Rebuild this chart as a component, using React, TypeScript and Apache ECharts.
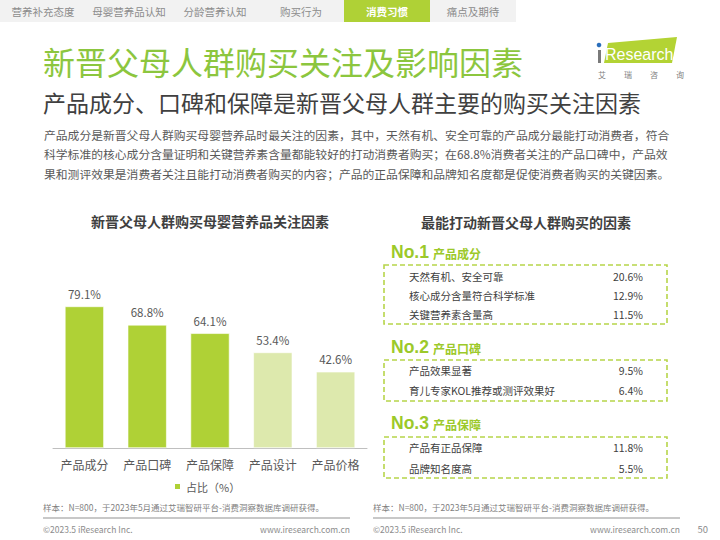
import React, { useEffect, useRef } from "react";
import * as echarts from "echarts";

const categories = ["产品成分", "产品口碑", "产品保障", "产品设计", "产品价格"];
const shares = [79.1, 68.8, 64.1, 53.4, 42.6];
const highlightCount = 3;

const tabs = ["营养补充态度", "母婴营养品认知", "分龄营养认知", "购买行为", "消费习惯", "痛点及期待"];
const activeTab = 4;

const ranks = ["No.1", "No.2", "No.3"];
const rankGroups = ["产品成分", "产品口碑", "产品保障"];
const groupItems = [
  ["天然有机、安全可靠", "核心成分含量符合科学标准", "关键营养素含量高"],
  ["产品效果显著", "育儿专家KOL推荐或测评效果好"],
  ["产品有正品保障", "品牌知名度高"],
];
const groupValues = [
  [20.6, 12.9, 11.5],
  [9.5, 6.4],
  [11.8, 5.5],
];

const paragraph = [
  "产品成分是新晋父母人群购买母婴营养品时最关注的因素，其中，天然有机、安全可靠的产品成分最能打动消费者，符合",
  "科学标准的核心成分含量证明和关键营养素含量都能较好的打动消费者购买；在68.8%消费者关注的产品口碑中，产品效",
  "果和测评效果是消费者关注且能打动消费者购买的内容；产品的正品保障和品牌知名度都是促使消费者购买的关键因素。",
];
const sourceNote = "样本：N=800，于2023年5月通过艾瑞智研平台-消费洞察数据库调研获得。";

const FONT = "'Noto Sans CJK SC', 'Noto Sans', sans-serif";
const GREEN = "#afd136";
const LIGHT = "#dde9ad";
const TITLE_GREEN = "#8cc63e";
const TEXT = "#595959";

export default function App() {
  const ref = useRef<HTMLDivElement>(null);
  useEffect(() => {
    if (!ref.current) return;
    const chart = echarts.init(ref.current, null, { renderer: "svg" });
    const g: any[] = [];

    // tabs
    g.push({ type: "rect", shape: { x: 0, y: 0, width: 516, height: 22 }, style: { fill: "#f2f2f2" } });
    tabs.forEach((t, i) => {
      if (i === activeTab) {
        g.push({ type: "rect", shape: { x: i * 86, y: 0, width: 86, height: 22 }, style: { fill: GREEN } });
      }
      g.push({
        type: "text", x: i * 86 + 43, y: 11,
        style: { text: t, fill: i === activeTab ? "#fff" : "#8c8c8c", font: `${i === activeTab ? "bold " : ""}10.5px ${FONT}`, align: "center", verticalAlign: "middle" },
      });
    });

    // titles
    g.push({ type: "text", x: 43, y: 61, style: { text: "新晋父母人群购买关注及影响因素", fill: TITLE_GREEN, font: `32px ${FONT}`, verticalAlign: "middle" } });
    g.push({ type: "text", x: 43, y: 102, style: { text: "产品成分、口碑和保障是新晋父母人群主要的购买关注因素", fill: "#404040", font: `23px ${FONT}`, verticalAlign: "middle" } });
    paragraph.forEach((line, i) => {
      g.push({ type: "text", x: 44, y: 134 + i * 19.5, style: { text: line, fill: TEXT, font: `11.8px ${FONT}`, verticalAlign: "middle" } });
    });

    // logo
    g.push({ type: "polygon", shape: { points: [[608, 43], [677, 37], [672, 63], [604, 63]] }, style: { fill: "#b3d334" } });
    g.push({ type: "circle", shape: { cx: 599, cy: 45, r: 2.3 }, style: { fill: "#2a6ebb" } });
    g.push({ type: "rect", shape: { x: 598, y: 50, width: 3, height: 13 }, style: { fill: "#7a7a7a" } });
    g.push({ type: "text", x: 605, y: 54, style: { text: "Research", fill: "#fff", font: `16px 'Liberation Sans', Arial, sans-serif`, verticalAlign: "middle" } });
    ["艾", "瑞", "咨", "询"].forEach((c, i) => {
      g.push({ type: "text", x: 602 + i * 26, y: 74, style: { text: c, fill: "#7f7f7f", font: `8px ${FONT}`, align: "center", verticalAlign: "middle" } });
    });

    // left chart title
    g.push({ type: "text", x: 210, y: 221, style: { text: "新晋父母人群购买母婴营养品关注因素", fill: "#404040", font: `bold 14px ${FONT}`, align: "center", verticalAlign: "middle" } });

    // right panel
    g.push({ type: "text", x: 526, y: 222, style: { text: "最能打动新晋父母人群购买的因素", fill: "#404040", font: `bold 14px ${FONT}`, align: "center", verticalAlign: "middle" } });
    const rankY = [252, 347, 423];
    const boxTop = [265, 360, 437];
    const rowGap = [19, 20, 21];
    ranks.forEach((r, gi) => {
      g.push({ type: "text", x: 391, y: rankY[gi], style: { text: r, fill: "#9cc92a", font: `bold 17.5px 'Liberation Sans', Arial, sans-serif`, verticalAlign: "middle" } });
      g.push({ type: "text", x: 433, y: rankY[gi] + 1, style: { text: rankGroups[gi], fill: "#9cc92a", font: `bold 12px ${FONT}`, verticalAlign: "middle" } });
      const n = groupItems[gi].length;
      const h = n === 3 ? 59 : 41;
      g.push({ type: "rect", shape: { x: 384, y: boxTop[gi], width: 283, height: h }, style: { fill: "none", stroke: "#b7d54a", lineWidth: 1.6, lineDash: [5, 3] } });
      groupItems[gi].forEach((it, k) => {
        const y = boxTop[gi] + (n === 3 ? 11 : 10) + k * rowGap[gi];
        g.push({ type: "text", x: 409, y, style: { text: it, fill: "#404040", font: `10.5px ${FONT}`, verticalAlign: "middle" } });
        g.push({ type: "text", x: 643, y, style: { text: groupValues[gi][k].toFixed(1) + "%", fill: "#404040", font: `10.5px ${FONT}`, align: "right", verticalAlign: "middle" } });
      });
    });

    // footers
    [43, 373].forEach((x) => {
      g.push({ type: "text", x, y: 507, style: { text: sourceNote, fill: "#7f7f7f", font: `8.5px ${FONT}`, verticalAlign: "middle" } });
      g.push({ type: "line", shape: { x1: x, y1: 518, x2: x + 307, y2: 518 }, style: { stroke: "#c8c8c8", lineWidth: 2 } });
      g.push({ type: "text", x, y: 529, style: { text: "©2023.5 iResearch Inc.", fill: "#8c8c8c", font: `8.5px ${FONT}`, verticalAlign: "middle" } });
      g.push({ type: "text", x: x + 307, y: 529, style: { text: "www.iresearch.com.cn", fill: "#8c8c8c", font: `8.5px ${FONT}`, align: "right", verticalAlign: "middle" } });
    });
    g.push({ type: "text", x: 708, y: 529, style: { text: "50", fill: "#8c8c8c", font: `9.5px ${FONT}`, align: "right", verticalAlign: "middle" } });

    chart.setOption({
      animation: false,
      backgroundColor: "#fff",
      textStyle: { fontFamily: FONT },
      grid: { left: 53, right: 353, top: 269, bottom: 92 },
      legend: {
        data: ["占比（%）"],
        left: 168, top: 476,
        icon: "rect", itemWidth: 7, itemHeight: 7, itemGap: 8,
        textStyle: { color: TEXT, fontSize: 11, fontFamily: FONT },
      },
      xAxis: {
        type: "category",
        data: categories,
        axisLine: { lineStyle: { color: "#bfbfbf", width: 1 } },
        axisTick: { show: false },
        axisLabel: { color: TEXT, fontSize: 12, margin: 10, fontFamily: FONT },
      },
      yAxis: { type: "value", min: 0, max: 100, show: false },
      series: [
        {
          name: "占比（%）",
          type: "bar",
          barWidth: 39,
          itemStyle: { color: GREEN, borderColor: "#fff", borderWidth: 0.6 },
          data: shares.map((v, i) => ({ value: v, itemStyle: { color: i < highlightCount ? GREEN : LIGHT } })),
          label: { show: true, position: "top", distance: 7, formatter: "{c}%", color: TEXT, fontSize: 11.5, fontFamily: FONT },
        },
      ],
      graphic: { elements: g },
    });
    return () => chart.dispose();
  }, []);
  return <div ref={ref} style={{ position: "fixed", left: 0, top: 0, width: 720, height: 540 }} />;
}
